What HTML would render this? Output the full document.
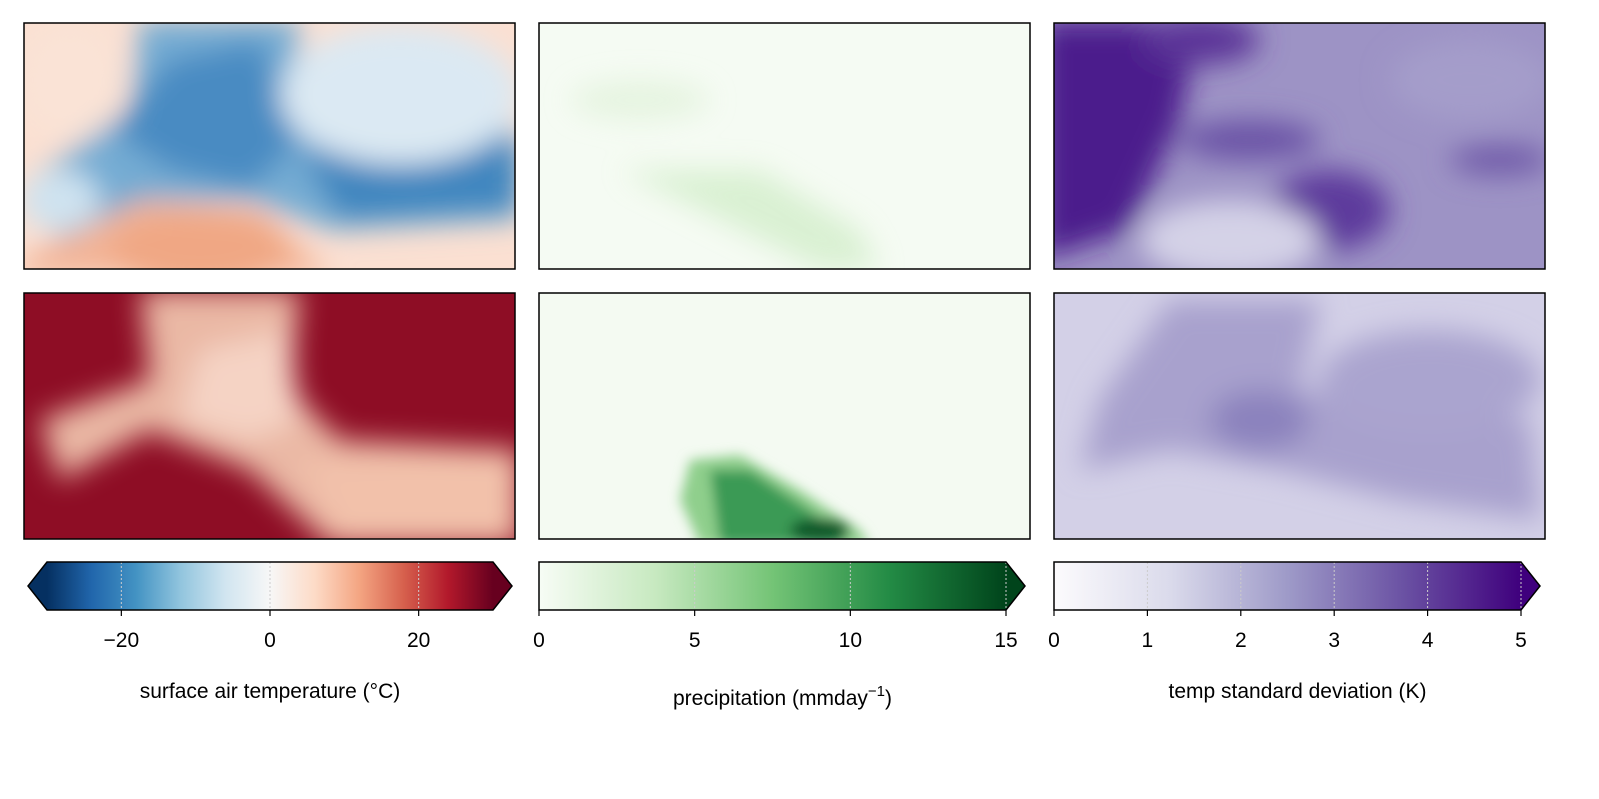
<!DOCTYPE html>
<html><head><meta charset="utf-8"><style>
html,body{margin:0;padding:0;background:#fff;overflow:hidden;width:1599px;height:799px}
svg{display:block;font-family:"Liberation Sans","DejaVu Sans",sans-serif}
</style></head><body>
<svg width="1599" height="799" viewBox="0 0 1599 799">
<defs>
<filter id="b1" x="-20%" y="-20%" width="140%" height="140%"><feGaussianBlur stdDeviation="14"/></filter>
<filter id="b2" x="-20%" y="-20%" width="140%" height="140%"><feGaussianBlur stdDeviation="6"/></filter>
<clipPath id="c1"><rect x="24" y="23" width="491" height="246"/></clipPath>
<clipPath id="c2"><rect x="539" y="23" width="491" height="246"/></clipPath>
<clipPath id="c3"><rect x="1054" y="23" width="491" height="246"/></clipPath>
<clipPath id="c4"><rect x="24" y="293" width="491" height="246"/></clipPath>
<clipPath id="c5"><rect x="539" y="293" width="491" height="246"/></clipPath>
<clipPath id="c6"><rect x="1054" y="293" width="491" height="246"/></clipPath>
<linearGradient id="gRdBu"><stop offset="0" stop-color="#053061"/><stop offset=".1" stop-color="#2166ac"/><stop offset=".2" stop-color="#4393c3"/><stop offset=".3" stop-color="#92c5de"/><stop offset=".4" stop-color="#d1e5f0"/><stop offset=".5" stop-color="#f7f7f7"/><stop offset=".6" stop-color="#fddbc7"/><stop offset=".7" stop-color="#f4a582"/><stop offset=".8" stop-color="#d6604d"/><stop offset=".9" stop-color="#b2182b"/><stop offset="1" stop-color="#67001f"/></linearGradient>
<linearGradient id="gGr"><stop offset="0" stop-color="#f7fcf5"/><stop offset=".25" stop-color="#c7e9c0"/><stop offset=".5" stop-color="#74c476"/><stop offset=".75" stop-color="#238b45"/><stop offset="1" stop-color="#00441b"/></linearGradient>
<linearGradient id="gPu"><stop offset="0" stop-color="#fcfbfd"/><stop offset=".25" stop-color="#dadaeb"/><stop offset=".5" stop-color="#9e9ac8"/><stop offset=".75" stop-color="#6a51a3"/><stop offset="1" stop-color="#3f007d"/></linearGradient>
</defs>

<g clip-path="url(#c1)">
<rect x="24" y="23" width="491" height="246" fill="#fbe0d2"/>
<g filter="url(#b1)">
<polygon points="140,20 300,20 290,120 520,130 520,220 330,230 250,200 150,200 60,240 30,180 130,110" fill="#74acd3"/>
<polygon points="170,60 260,40 300,140 250,190 170,170 110,130" fill="#4a8bc2"/>
<polygon points="300,150 520,140 520,210 340,220" fill="#3f86bf"/>
<ellipse cx="400" cy="95" rx="120" ry="70" fill="#dbe9f3"/>
<polygon points="20,260 140,200 260,210 330,275 20,275" fill="#f3b496"/>
<ellipse cx="200" cy="250" rx="90" ry="40" fill="#f0a784"/>
<ellipse cx="70" cy="80" rx="55" ry="60" fill="#fae3d6"/>
<ellipse cx="60" cy="200" rx="40" ry="30" fill="#cfe3f0"/>
</g>
</g>
<g clip-path="url(#c2)">
<rect x="539" y="23" width="491" height="246" fill="#f5fbf3"/>
<g filter="url(#b1)" opacity=".8">
<polygon points="620,170 760,170 860,230 880,270 820,270 720,220" fill="#d3eecb"/>
<ellipse cx="640" cy="100" rx="70" ry="20" fill="#e2f3dc"/>
</g>
</g>
<g clip-path="url(#c3)">
<rect x="1054" y="23" width="491" height="246" fill="#9d93c5"/>
<g filter="url(#b1)">
<polygon points="1040,20 1200,20 1180,120 1130,230 1040,260" fill="#4b1a8c"/>
<ellipse cx="1200" cy="40" rx="60" ry="25" fill="#5c3598"/>
<ellipse cx="1330" cy="210" rx="60" ry="40" fill="#5d3b9c"/>
<ellipse cx="1250" cy="140" rx="70" ry="20" fill="#6a53a6"/>
<ellipse cx="1230" cy="240" rx="90" ry="40" fill="#d4d2e7"/>
<ellipse cx="1470" cy="80" rx="80" ry="40" fill="#a49dca"/>
<ellipse cx="1500" cy="160" rx="50" ry="15" fill="#6f5aa8"/>
</g>
</g>
<g clip-path="url(#c4)">
<rect x="24" y="293" width="491" height="246" fill="#8e0d25"/>
<g filter="url(#b1)">
<polygon points="140,290 300,290 290,390 340,440 520,450 520,545 330,545 250,470 150,430 60,480 40,420 150,380" fill="#eab8a4"/>
<polygon points="200,350 290,330 300,420 250,440 180,420" fill="#f5d3c4"/>
<polygon points="300,460 520,450 520,545 340,545" fill="#f2c1aa"/>
</g>
</g>
<g clip-path="url(#c5)">
<rect x="539" y="293" width="491" height="246" fill="#f4faf2"/>
<g filter="url(#b2)">
<polygon points="690,460 740,455 800,490 860,530 870,545 700,545 680,500" fill="#8fcf8c"/>
<polygon points="710,470 750,470 810,510 850,545 720,545" fill="#3a9a55"/>
<ellipse cx="820" cy="530" rx="30" ry="12" fill="#0f5a2a"/>
</g>
</g>
<g clip-path="url(#c6)">
<rect x="1054" y="293" width="491" height="246" fill="#d3d0e7"/>
<g filter="url(#b1)">
<polygon points="1170,300 1320,300 1300,390 1530,420 1540,520 1400,500 1280,470 1170,450 1080,470 1100,400" fill="#a8a1cd"/>
<ellipse cx="1430" cy="380" rx="110" ry="50" fill="#aaa4cf"/>
<ellipse cx="1260" cy="420" rx="50" ry="30" fill="#8b82bd"/>
</g>
</g>

<g fill="none" stroke="#000" stroke-width="1.5">
<rect x="24" y="23" width="491" height="246"/><rect x="539" y="23" width="491" height="246"/><rect x="1054" y="23" width="491" height="246"/>
<rect x="24" y="293" width="491" height="246"/><rect x="539" y="293" width="491" height="246"/><rect x="1054" y="293" width="491" height="246"/>
</g>
<g id="cbars"></g>
</svg>
<script>
const cb1Ticks=[-20,0,20];
const cb2Ticks=[0,5,10,15];
const cb3Ticks=[0,1,2,3,4,5];
const cb1Range=[-30,30];
const cb2Range=[0,15];
const cb3Range=[0,5];
const NS="http://www.w3.org/2000/svg";
const root=document.getElementById('cbars');
function mk(t,a){const e=document.createElementNS(NS,t);for(const k in a)e.setAttribute(k,a[k]);return e;}
function cbar(name,x0,x1,range,ticks,grad,extL,extR,cL,cR,label,lblY,sup){
  const y0=562,y1=610,ym=586;
  const g=mk('g',{});
  
  
  const sx=v=>x0+(v-range[0])/(range[1]-range[0])*(x1-x0);
  g.appendChild(mk('rect',{x:x0,y:y0,width:x1-x0,height:y1-y0,fill:'url(#'+grad+')'}));
  if(extL)g.appendChild(mk('polygon',{points:`${x0},${y0} ${x0-19},${ym} ${x0},${y1}`,fill:cL}));
  if(extR)g.appendChild(mk('polygon',{points:`${x1},${y0} ${x1+19},${ym} ${x1},${y1}`,fill:cR}));
  ticks.forEach(t=>{
    const x=sx(t);
    g.appendChild(mk('line',{x1:x,x2:x,y1:y0,y2:y1,stroke:'#ccc','stroke-width':1,'stroke-dasharray':'2,2'}));
    g.appendChild(mk('line',{x1:x,x2:x,y1:y1,y2:y1+6,stroke:'#000','stroke-width':1.2}));
    const tx=mk('text',{x:x,y:y1+37,'text-anchor':'middle','font-size':21,fill:'#000'});
    tx.textContent=t<0?'\u2212'+(-t):String(t);
    g.appendChild(tx);
  });
  let pts=`${x0},${y0} ${x1},${y0} `+(extR?`${x1+19},${ym} `:'')+`${x1},${y1} ${x0},${y1} `+(extL?`${x0-19},${ym}`:'');
  g.appendChild(mk('polygon',{points:pts,fill:'none',stroke:'#000','stroke-width':1.5}));
  const lb=mk('text',{x:(x0+x1)/2+(extR&&!extL?10:0),y:lblY,'text-anchor':'middle','font-size':21,fill:'#000'});
  lb.textContent=label;
  if(sup){const s=mk('tspan',{dy:-9,'font-size':15});s.textContent=sup;lb.appendChild(s);const s2=mk('tspan',{dy:9});s2.textContent=')';lb.appendChild(s2);}
  g.appendChild(lb);
  root.appendChild(g);
}
cbar('colorbar-temperature',47,493,cb1Range,cb1Ticks,'gRdBu',true,true,'#053061','#67001f','surface air temperature (\u00b0C)',698);
cbar('colorbar-precipitation',539,1006,cb2Range,cb2Ticks,'gGr',false,true,'','#00441b','precipitation (mmday',705,'\u22121');
cbar('colorbar-stddev',1054,1521,cb3Range,cb3Ticks,'gPu',false,true,'','#3f007d','temp standard deviation (K)',698);
</script>
</body></html>
